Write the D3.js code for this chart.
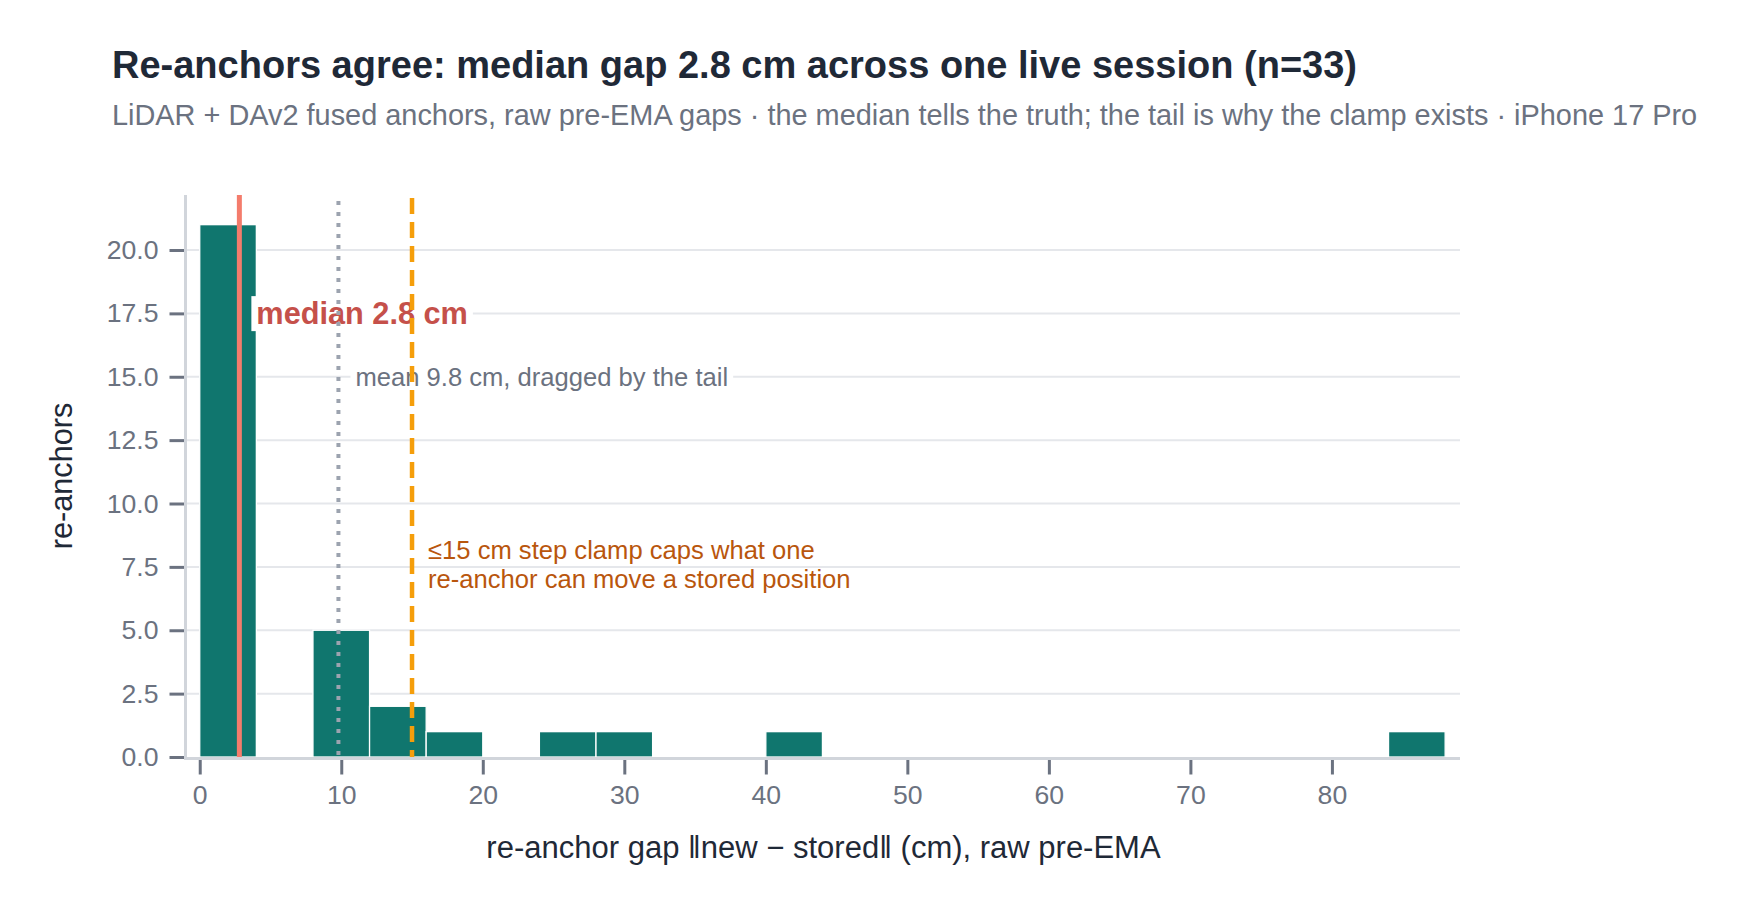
<!DOCTYPE html>
<html>
<head>
<meta charset="utf-8">
<script src="https://cdn.jsdelivr.net/npm/d3@7"></script>
<style>
  html, body { margin: 0; padding: 0; background: #fff; }
  svg { display: block; font-family: "Liberation Sans", Arial, Helvetica, sans-serif; }
</style>
</head>
<body>
<svg id="chart"></svg>
<script>
// histogram bins (cm), 4 cm wide, only the non-empty ones
const binStarts = [0, 8, 12, 16, 24, 28, 40, 84];
const binCounts = [21, 5, 2, 1, 1, 1, 1, 1];
const binWidth = 4;

const xTicks = [0, 10, 20, 30, 40, 50, 60, 70, 80];
const yTicks = [0, 2.5, 5, 7.5, 10, 12.5, 15, 17.5, 20];

const medianGap = 2.8;
const meanGap = 9.8;
const clampStep = 15;

const titleText = "Re-anchors agree: median gap 2.8 cm across one live session (n=33)";
const subtitleText = "LiDAR + DAv2 fused anchors, raw pre-EMA gaps · the median tells the truth; the tail is why the clamp exists · iPhone 17 Pro";
const xTitle = "re-anchor gap \u2016new \u2212 stored\u2016 (cm), raw pre-EMA";
const yTitle = "re-anchors";
const medianLabel = "median 2.8 cm";
const meanLabel = "mean 9.8 cm, dragged by the tail";
const clampLabel = ["\u226415 cm step clamp caps what one", "re-anchor can move a stored position"];

const width = 1747;
const height = 913;
const margin = { top: 195, right: 287, bottom: 156, left: 187 };

const teal = "#10766e";
const grid = "#e5e7eb";
const axisCol = "#d1d5db";
const tickCol = "#6b7280";
const dark = "#1f2937";

const svg = d3.select("#chart")
  .attr("width", width)
  .attr("height", height);

const xScale = d3.scaleLinear()
  .domain([-0.9, 89.05])
  .range([margin.left, width - margin.right]);

const yScale = d3.scaleLinear()
  .domain([0, 22.17])
  .range([height - margin.bottom, margin.top]);

const x0 = margin.left, x1 = width - margin.right;
const y0 = height - margin.bottom, y1 = margin.top;

// title + subtitle
svg.append("text")
  .attr("x", 112).attr("y", 78)
  .attr("fill", dark)
  .attr("font-size", 38)
  .attr("font-weight", "bold")
  .text(titleText);

svg.append("text")
  .attr("x", 112).attr("y", 125)
  .attr("fill", tickCol)
  .attr("font-size", 28.9)
  .text(subtitleText);

// grid
svg.selectAll(".y-grid")
  .data(yTicks.filter(d => d > 0))
  .enter().append("line")
  .attr("class", "y-grid")
  .attr("x1", x0).attr("x2", x1)
  .attr("y1", d => yScale(d)).attr("y2", d => yScale(d))
  .attr("stroke", grid)
  .attr("stroke-width", 2);

// bars
svg.selectAll(".bar")
  .data(binStarts.map((s, i) => ({ s: s, c: binCounts[i] })))
  .enter().append("rect")
  .attr("class", "bar")
  .attr("x", d => xScale(d.s))
  .attr("width", d => xScale(d.s + binWidth) - xScale(d.s))
  .attr("y", d => yScale(d.c))
  .attr("height", d => yScale(0) - yScale(d.c))
  .attr("fill", teal)
  .attr("stroke", "#fff")
  .attr("stroke-width", 1.3);

// axes
const yAxis = svg.append("g")
  .attr("transform", `translate(${x0 - 1.5}, 0)`)
  .call(d3.axisLeft(yScale).tickValues(yTicks).tickFormat(d3.format(".1f")).tickSize(16).tickPadding(11));

const xAxis = svg.append("g")
  .attr("transform", `translate(0, ${y0 + 1.5})`)
  .call(d3.axisBottom(xScale).tickValues(xTicks).tickFormat(d3.format("d")).tickSize(16).tickPadding(11));

[xAxis, yAxis].map((axis) => {
  axis.select(".domain").remove();
  axis.selectAll(".tick line")
    .attr("stroke", tickCol)
    .attr("stroke-width", 3);
  axis.selectAll(".tick text")
    .attr("fill", tickCol)
    .attr("font-size", 26.6)
    .attr("font-family", "Liberation Sans, Arial, sans-serif");
});

svg.append("line")
  .attr("x1", x0 - 1.5).attr("x2", x0 - 1.5)
  .attr("y1", y1).attr("y2", y0 + 3)
  .attr("stroke", axisCol).attr("stroke-width", 3);

svg.append("line")
  .attr("x1", x0 - 3).attr("x2", x1)
  .attr("y1", y0 + 1.5).attr("y2", y0 + 1.5)
  .attr("stroke", axisCol).attr("stroke-width", 3);

// axis titles
svg.append("text")
  .attr("x", (x0 + x1) / 2).attr("y", 858)
  .attr("text-anchor", "middle")
  .attr("fill", dark)
  .attr("font-size", 31)
  .text(xTitle);

svg.append("text")
  .attr("transform", `translate(72, ${(y0 + y1) / 2}) rotate(-90)`)
  .attr("text-anchor", "middle")
  .attr("fill", dark)
  .attr("font-size", 30.7)
  .text(yTitle);

// annotations with white backing boxes
function boxedLabel(txt, xv, yv, size, weight, color) {
  const g = svg.append("g");
  const t = g.append("text")
    .attr("x", xScale(xv) + 17)
    .attr("y", yScale(yv))
    .attr("dy", "0.35em")
    .attr("fill", color)
    .attr("font-size", size)
    .attr("font-weight", weight)
    .text(txt);
  const bb = t.node().getBBox();
  g.insert("rect", "text")
    .attr("x", bb.x - 5).attr("y", bb.y)
    .attr("width", bb.width + 10).attr("height", bb.height)
    .attr("fill", "#fff");
}

boxedLabel(medianLabel, medianGap, 17.5, 30.7, "bold", "#c5504a");
boxedLabel(meanLabel, meanGap, 15, 25.6, "normal", tickCol);

svg.append("text")
  .attr("x", xScale(clampStep) + 16)
  .attr("y", yScale(7.5))
  .attr("fill", "#b9560d")
  .attr("font-size", 25.6)
  .selectAll("tspan")
  .data(clampLabel)
  .enter().append("tspan")
  .attr("x", xScale(clampStep) + 16)
  .attr("dy", (d, i) => i === 0 ? "-0.3em" : "1.12em")
  .text(d => d);

// reference lines
svg.append("line")
  .attr("x1", xScale(meanGap)).attr("x2", xScale(meanGap))
  .attr("y1", y1 + 6).attr("y2", y0)
  .attr("stroke", "#9ca3af")
  .attr("stroke-width", 4)
  .attr("stroke-dasharray", "4,7");

svg.append("line")
  .attr("x1", xScale(clampStep)).attr("x2", xScale(clampStep))
  .attr("y1", y1 + 3).attr("y2", y0)
  .attr("stroke", "#f59e0b")
  .attr("stroke-width", 4.5)
  .attr("stroke-dasharray", "16,8");

svg.append("line")
  .attr("x1", xScale(medianGap)).attr("x2", xScale(medianGap))
  .attr("y1", y1).attr("y2", y0)
  .attr("stroke", "#f47c6c")
  .attr("stroke-width", 5);
</script>
</body>
</html>
